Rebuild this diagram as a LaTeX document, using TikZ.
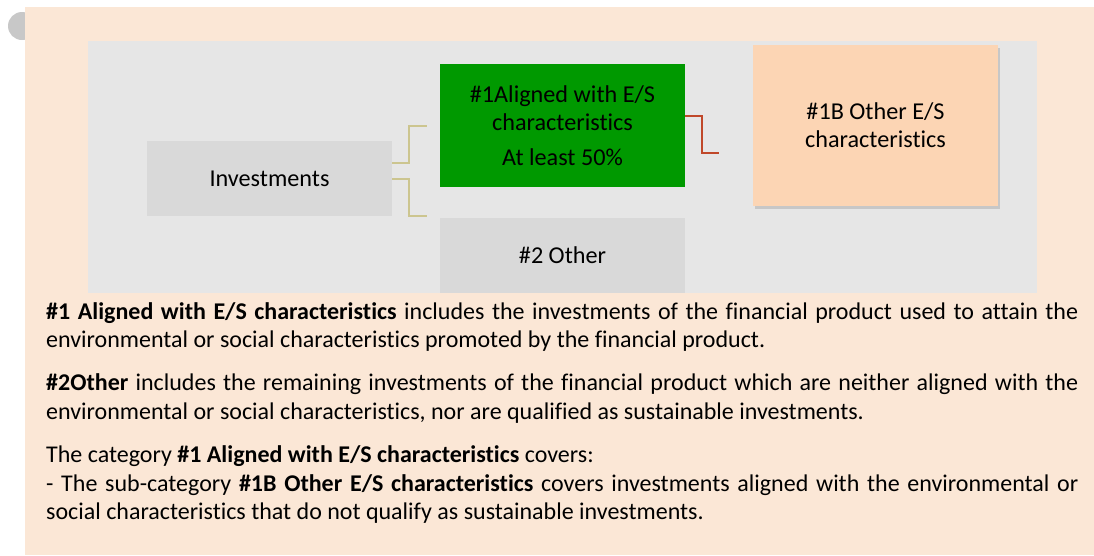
\documentclass[tikz,border=0pt]{standalone}
\usepackage{fontspec}
\setmainfont{Carlito}[Ligatures={NoCommon}]
\usetikzlibrary{shadows}
\definecolor{panel}{HTML}{FBE7D6}
\definecolor{inner}{HTML}{E6E6E6}
\definecolor{boxgray}{HTML}{D9D9D9}
\definecolor{greenbox}{HTML}{009900}
\definecolor{peach}{HTML}{FCD5B4}
\definecolor{olive}{HTML}{CCC58F}
\definecolor{rust}{HTML}{C0482A}
\definecolor{dot}{HTML}{C8C8C8}
\begin{document}
\begin{tikzpicture}[x=1pt,y=-1pt,
  box/.style={minimum width=245pt, inner sep=0pt, align=center, font=\fontsize{24.2}{28}\selectfont},
  conn/.style={line width=2pt},
  bodytext/.style={anchor=base west, text width=1032pt, inner sep=0pt, align=justify}
]
\useasboundingbox (0,0) rectangle (1094,555);
\fill[dot] (22,26) circle (14pt);
\fill[panel] (25,7) rectangle (1094,555);
\fill[inner] (88,41) rectangle (1037,293);

\node[box, fill=boxgray, minimum height=75pt] (inv) at (269.5,178.5) {Investments};
\node[box, fill=greenbox, minimum height=123pt] (green) at (562.5,125.5)
  {\#1Aligned with E/S\\characteristics\\[7pt]At least 50\%};
\node[box, fill=boxgray, minimum height=75pt] (other) at (562.5,255.5) {\#2 Other};
\node[box, fill=peach, minimum height=161pt,
  drop shadow={shadow xshift=1.5pt, shadow yshift=-3pt, opacity=0.3, fill=gray}]
  (peachbox) at (875.5,125.5) {\#1B Other E/S\\characteristics};

\coordinate (c1) at (427,126);
\coordinate (c2) at (427,216);
\coordinate (c3) at (719,153);
\draw[conn, olive] ([yshift=15.5pt]inv.east) -- ++(17,0) |- (c1);
\draw[conn, olive] (inv.east) -- ++(17,0) |- (c2);
\draw[conn, rust] ([yshift=9.5pt]green.east) -- ++(17,0) |- (c3);

\node[bodytext] (body) at (46,319) {\fontsize{24.0}{28.4}\selectfont
  \hyphenpenalty=10000\exhyphenpenalty=10000\setlength{\parskip}{15pt}%
  \textbf{\#1 Aligned with E/S characteristics} includes the investments of the financial product used to attain the environmental or social characteristics promoted by the financial product.\par
  \textbf{\#2Other} includes the remaining investments of the financial product which are neither aligned with the environmental or social characteristics, nor are qualified as sustainable investments.\par
  The category \textbf{\#1 Aligned with E/S characteristics} covers:\\
  - The sub-category \textbf{\#1B Other E/S characteristics} covers investments aligned with the environmental or social characteristics that do not qualify as sustainable investments.\par};
\end{tikzpicture}
\end{document}
